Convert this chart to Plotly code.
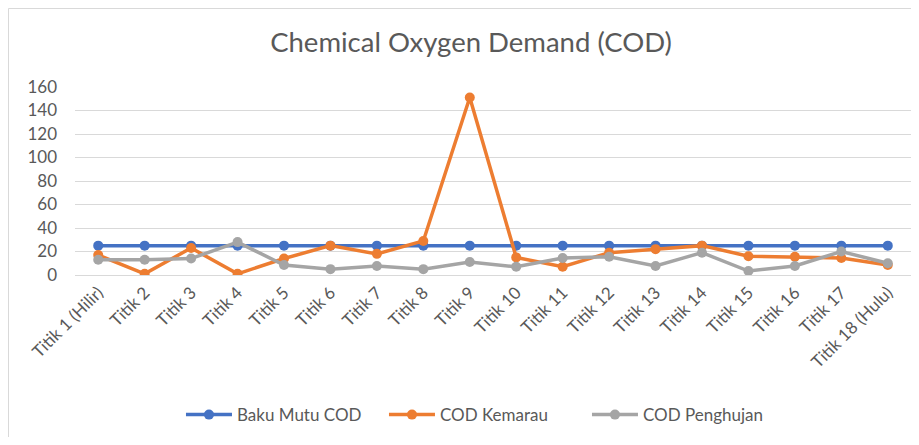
import plotly.graph_objects as go

categories = ["Titik 1 (Hilir)", "Titik 2", "Titik 3", "Titik 4", "Titik 5", "Titik 6",
              "Titik 7", "Titik 8", "Titik 9", "Titik 10", "Titik 11", "Titik 12",
              "Titik 13", "Titik 14", "Titik 15", "Titik 16", "Titik 17", "Titik 18 (Hulu)"]
baku_mutu = [25] * 18
cod_kemarau = [17, 1, 23, 1, 14, 25, 18, 29, 151, 15, 7, 19, 22, 25, 16, 15.5, 14.5, 8.5]
cod_penghujan = [13, 13, 14, 28, 8.5, 5, 7.7, 5, 11, 7, 14.5, 15.5, 7.7, 19, 3.4, 7.7, 20, 10]
y_ticks = [0, 20, 40, 60, 80, 100, 120, 140, 160]

FONT = "Lato"
TXT = "#595959"

W, H = 903, 429
L, R, T, B = 67, 0, 79, 162
PW, PH = W - L - R, H - T - B

fig = go.Figure()
series = [("Baku Mutu COD", baku_mutu, "#4472C4"),
          ("COD Kemarau", cod_kemarau, "#ED7D31"),
          ("COD Penghujan", cod_penghujan, "#A5A5A5")]
for name, vals, col in series:
    fig.add_trace(go.Scatter(x=categories, y=vals, name=name, mode="lines+markers",
                             line=dict(color=col, width=3.5),
                             marker=dict(color=col, size=10)))

fig.update_layout(
    width=W, height=H,
    margin=dict(l=L, r=R, t=T, b=B, pad=0),
    paper_bgcolor="white", plot_bgcolor="white",
    font=dict(family=FONT, color=TXT, size=17),
    title=dict(text="Chemical Oxygen Demand (COD)", x=463/W, xref="container",
               y=1-34.5/H, yref="container", xanchor="center", yanchor="middle",
               font=dict(size=27.5, color=TXT, family=FONT)),
    legend=dict(orientation="h", x=0.491, xanchor="center", y=-0.745, yanchor="middle",
                font=dict(size=17, color=TXT), tracegroupgap=0, itemwidth=46,
                entrywidth=142, entrywidthmode="pixels"),
    showlegend=True,
)
fig.update_xaxes(type="category", range=[-0.5, 17.5], showgrid=False, showline=True,
                 linecolor="#d9d9d9", linewidth=1, tickangle=-45, ticks="",
                 automargin=False, tickfont=dict(size=17, color=TXT))
fig.update_yaxes(range=[0, 160], tickvals=y_ticks, showgrid=True, gridcolor="#d9d9d9",
                 gridwidth=1, zeroline=False, showline=False, ticks="", automargin=False,
                 ticklabelstandoff=17, tickfont=dict(size=17, color=TXT))
fig.add_shape(type="rect", xref="paper", yref="paper", x0=(0.5 - L) / PW, x1=1.05,
              y0=-1.2, y1=(PH + T - 0.5) / PH, line=dict(color="#d9d9d9", width=1),
              fillcolor="rgba(0,0,0,0)", layer="below")

fig.write_html("out.html")
